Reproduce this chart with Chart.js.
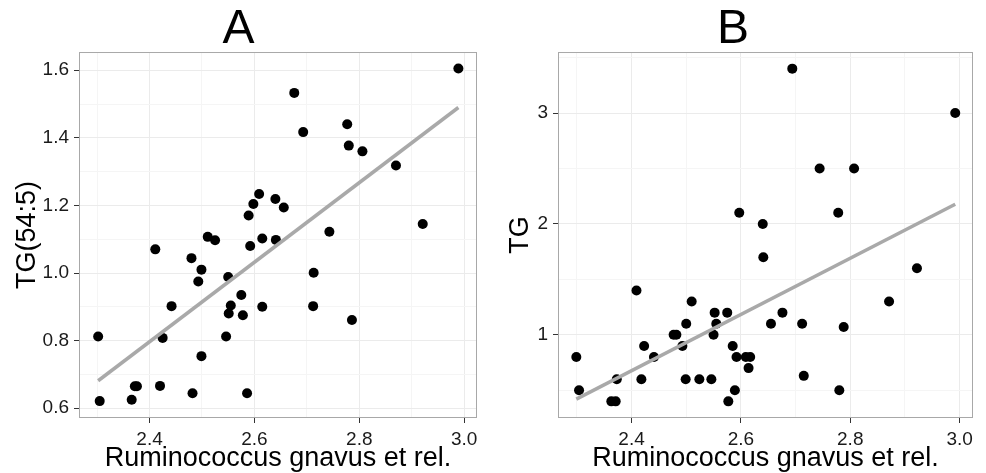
<!DOCTYPE html>
<html>
<head>
<meta charset="utf-8">
<script src="https://cdn.jsdelivr.net/npm/chart.js@4.4.1/dist/chart.umd.min.js"></script>
<style>
	html, body { margin: 0; padding: 0; background: #fff; }
	#wrap { position: relative; width: 986px; height: 473px; }
	.panel { position: absolute; top: 0; width: 493px; height: 473px; }
</style>
</head>
<body>
<div id="wrap">
	<div class="panel" style="left:0"><canvas id="chartA"></canvas></div>
	<div class="panel" style="left:493px"><canvas id="chartB"></canvas></div>
</div>
<script>
// Panel A - TG(54:5)
const xA = [2.989, 2.676, 2.777, 2.693, 2.780, 2.806, 2.870, 2.609, 2.640, 2.598, 2.656,
	2.589, 2.921, 2.743, 2.511, 2.525, 2.615, 2.641, 2.411, 2.592, 2.480, 2.499,
	2.713, 2.550, 2.493, 2.575, 2.442, 2.555, 2.551, 2.615, 2.578, 2.712, 2.786,
	2.302, 2.425, 2.546, 2.499, 2.372, 2.376, 2.420, 2.305, 2.366, 2.482, 2.586];
const yA = [1.605, 1.533, 1.440, 1.417, 1.377, 1.360, 1.318, 1.234, 1.219, 1.204, 1.194,
	1.170, 1.145, 1.122, 1.107, 1.097, 1.102, 1.098, 1.070, 1.080, 1.044, 1.010,
	1.001, 0.988, 0.975, 0.935, 0.902, 0.904, 0.880, 0.900, 0.875, 0.902, 0.861,
	0.812, 0.808, 0.812, 0.754, 0.665, 0.665, 0.666, 0.621, 0.625, 0.644, 0.644];

// Panel B - TG
const xB = [2.694, 2.992, 2.744, 2.807, 2.597, 2.778, 2.640, 2.641, 2.922, 2.409, 2.510,
	2.871, 2.552, 2.575, 2.676, 2.500, 2.555, 2.655, 2.712, 2.788, 2.477, 2.482,
	2.550, 2.493, 2.423, 2.585, 2.441, 2.299, 2.592, 2.609, 2.617, 2.614, 2.715,
	2.373, 2.418, 2.499, 2.524, 2.546, 2.304, 2.589, 2.780, 2.363, 2.371, 2.577];
const yB = [3.40, 3.00, 2.50, 2.50, 2.10, 2.10, 2.00, 1.70, 1.60, 1.40, 1.30,
	1.30, 1.20, 1.20, 1.20, 1.10, 1.10, 1.10, 1.10, 1.07, 1.00, 1.00,
	1.00, 0.90, 0.90, 0.90, 0.80, 0.80, 0.80, 0.80, 0.80, 0.70, 0.63,
	0.60, 0.60, 0.60, 0.60, 0.60, 0.50, 0.50, 0.50, 0.40, 0.40, 0.40];

const xLabel = 'Ruminococcus gnavus et rel.';

// least squares fit, drawn from min x to max x
function fitLine(xs, ys) {
	const n = xs.length;
	const mx = xs.reduce((a, b) => a + b, 0) / n;
	const my = ys.reduce((a, b) => a + b, 0) / n;
	let sxy = 0, sxx = 0;
	for (let i = 0; i < n; i++) {
		sxy += (xs[i] - mx) * (ys[i] - my);
		sxx += (xs[i] - mx) * (xs[i] - mx);
	}
	const b = sxy / sxx;
	const a = my - b * mx;
	const x0 = Math.min(...xs), x1 = Math.max(...xs);
	return [{x: x0, y: a + b * x0}, {x: x1, y: a + b * x1}];
}

// grey box round the plot area
const panelBox = {
	id: 'panelBox',
	afterDatasetsDraw(chart) {
		const {ctx, chartArea: c} = chart;
		ctx.save();
		ctx.strokeStyle = '#a8a8a8';
		ctx.lineWidth = 1;
		ctx.strokeRect(c.left + 0.5, c.top + 0.5, c.right - c.left - 1, c.bottom - c.top - 1);
		ctx.restore();
	}
};

const tickFont = {family: 'Liberation Sans, Arial, sans-serif', size: 19};
const titleFont = {family: 'Liberation Sans, Arial, sans-serif', size: 27, lineHeight: 1};

function makePanel(id, title, xs, ys, yTitle, yMin, yMax, yStep, isMajorY, fmtY, yAxisWidth, padRight) {
	const points = xs.map((x, i) => ({x: x, y: ys[i]}));
	const isMajorX = v => Math.round(v * 10) % 2 === 0;
	const config = {
		type: 'scatter',
		data: {
			datasets: [{
				data: fitLine(xs, ys),
				showLine: true,
				borderColor: '#a9a9a9',
				borderWidth: 3.5,
				pointRadius: 0,
				order: 0
			}, {
				data: points,
				pointRadius: 5,
				pointBackgroundColor: '#000',
				pointBorderWidth: 0,
				order: 1
			}]
		},
		options: {
			responsive: false,
			animation: false,
			layout: {padding: {left: 0, right: padRight, top: 0, bottom: 0}},
			plugins: {
				legend: {display: false},
				tooltip: {enabled: false},
				title: {
					display: true,
					text: title,
					color: '#000',
					font: {family: 'Liberation Sans, Arial, sans-serif', size: 48, weight: 'normal', lineHeight: 0.917},
					padding: {top: 8, bottom: 0}
				}
			},
			scales: {
				x: {
					type: 'linear',
					min: 2.2655,
					max: 3.0245,
					afterFit: s => { s.height = 55; },
					ticks: {
						stepSize: 0.1,
						includeBounds: false,
						autoSkip: false,
						maxRotation: 0,
						padding: 5,
						color: '#1a1a1a',
						font: tickFont,
						callback: v => isMajorX(v) ? v.toFixed(1) : ''
					},
					grid: {
						color: c => isMajorX(c.tick.value) ? '#ebebeb' : '#f5f5f5',
						tickColor: c => isMajorX(c.tick.value) ? '#333' : 'rgba(0,0,0,0)',
						tickLength: 5,
						lineWidth: 1
					},
					border: {display: false},
					title: {display: true, text: xLabel, color: '#000', font: titleFont, padding: {top: 0, bottom: 1}}
				},
				y: {
					type: 'linear',
					min: yMin,
					max: yMax,
					afterFit: s => { s.width = yAxisWidth; },
					ticks: {
						stepSize: yStep,
						includeBounds: false,
						autoSkip: false,
						padding: 5,
						color: '#1a1a1a',
						font: tickFont,
						callback: v => isMajorY(v) ? fmtY(v) : ''
					},
					grid: {
						color: c => isMajorY(c.tick.value) ? '#ebebeb' : '#f5f5f5',
						tickColor: c => isMajorY(c.tick.value) ? '#333' : 'rgba(0,0,0,0)',
						tickLength: 5,
						lineWidth: 1
					},
					border: {display: false},
					title: {display: true, text: yTitle, color: '#000', font: titleFont, padding: {top: 14, bottom: 0}}
				}
			}
		},
		plugins: [panelBox]
	};
	const el = document.getElementById(id);
	el.width = 493;
	el.height = 473;
	return new Chart(el, config);
}

makePanel('chartA', 'A', xA, yA, 'TG(54:5)', 0.571, 1.654, 0.1,
	v => Math.round(v * 10) % 2 === 0, v => v.toFixed(1), 79, 16);
makePanel('chartB', 'B', xB, yB, 'TG', 0.25, 3.55, 0.5,
	v => Math.abs(v - Math.round(v)) < 1e-6, v => String(Math.round(v)), 65, 13);
</script>
</body>
</html>
